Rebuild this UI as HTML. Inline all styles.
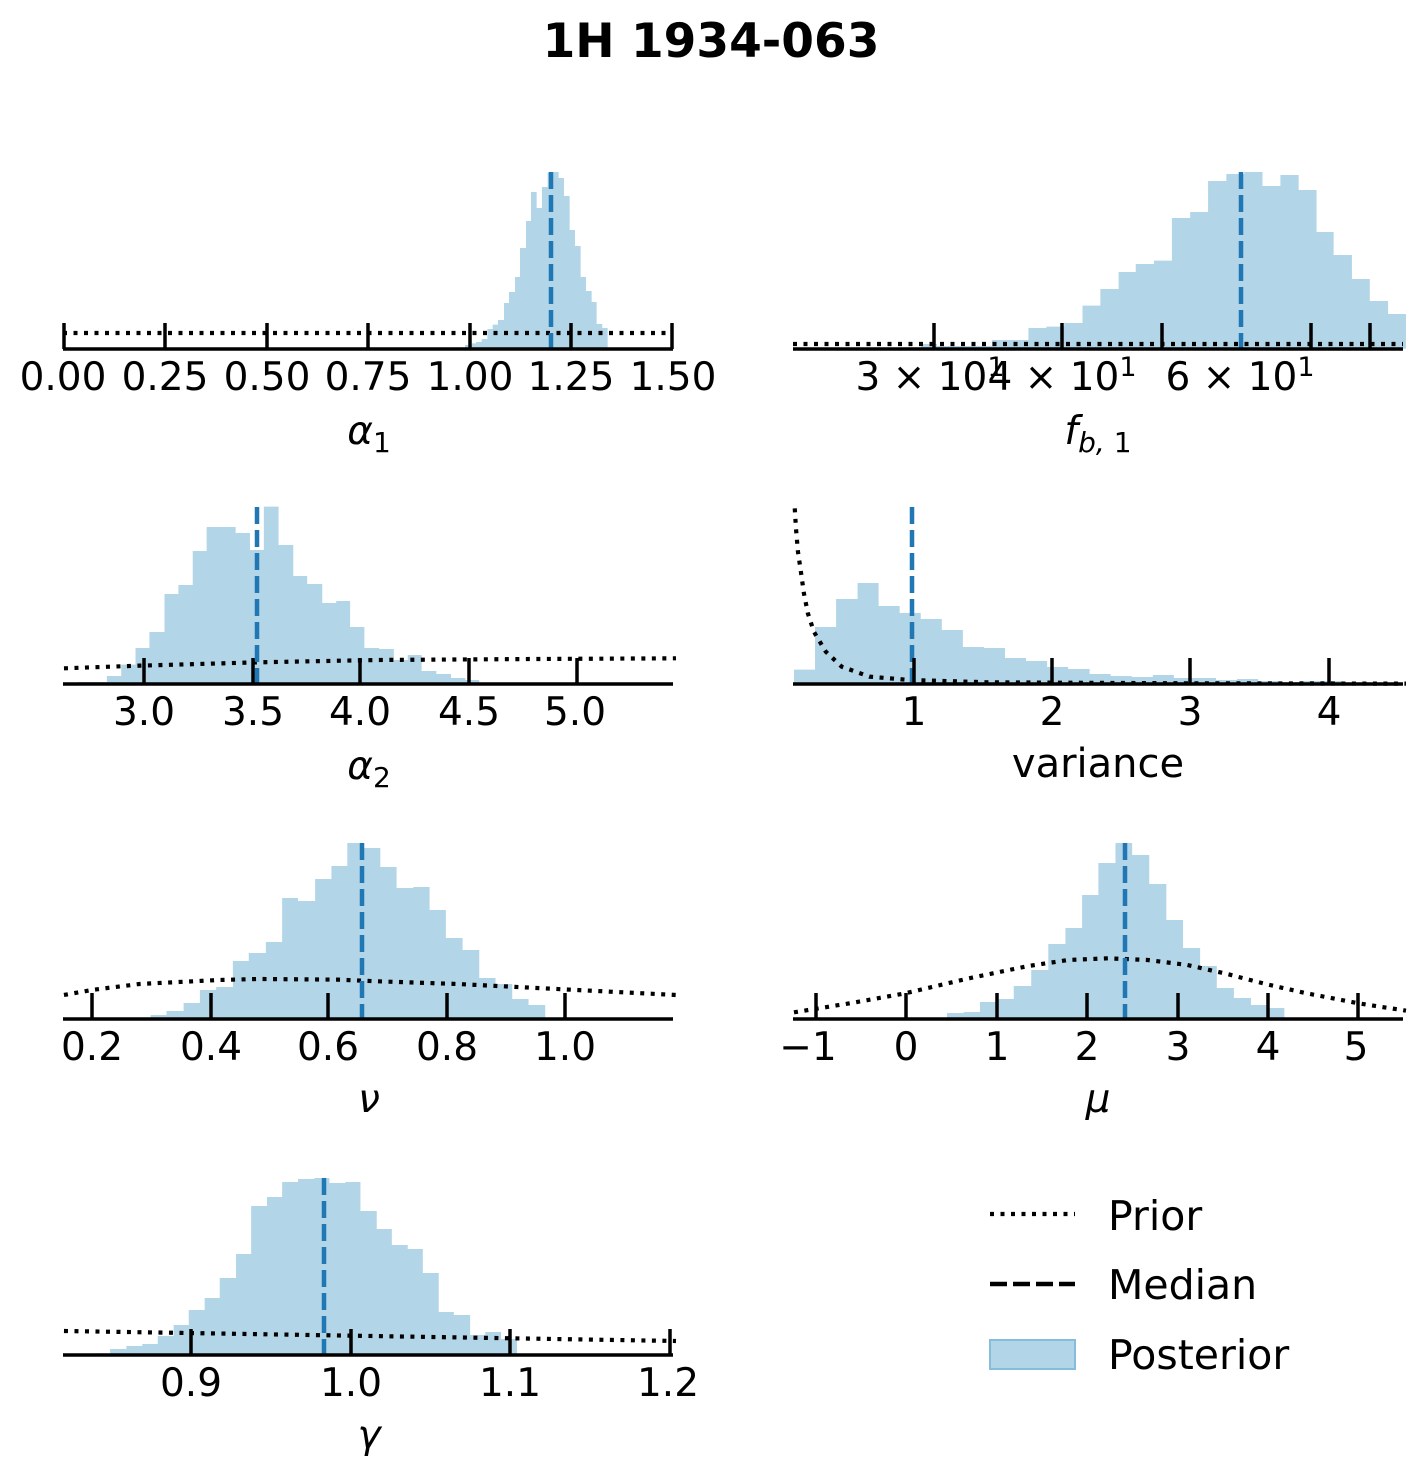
<!DOCTYPE html>
<html><head><meta charset="utf-8"><style>
body{margin:0;background:#fff;}
svg{display:block;font-family:"DejaVu Sans","Liberation Sans",sans-serif;}
.t{font-size:39px;text-anchor:middle;fill:#000;}
.m{font-size:39px;text-anchor:middle;font-style:italic;fill:#000;}
.h{fill:#b3d5e8;stroke:none;}
.p{fill:none;stroke:#000;stroke-width:4.2;stroke-dasharray:4 6.5;}
.md{stroke:#1f77b4;stroke-width:4.5;stroke-dasharray:17 6;}
.ax{stroke:#000;stroke-width:3.5;}
</style></head><body>
<svg width="1422" height="1476" viewBox="0 0 1422 1476" xmlns="http://www.w3.org/2000/svg">
<text x="711" y="57" style="font-size:47px;font-weight:bold;text-anchor:middle">1H 1934-063</text>

<!-- Panel 1: alpha1 -->
<g transform="translate(440,160) scale(0.3333,0.3333)">
<path class="h" d="M40 566V562H75V555H95V550H108V546H125V537H142V507H158V494H174V480H192V429H207V396H225V351H240V264H258V183H273V96H290V144H306V81H323V38H340V36H356V54H372V108H389V210H405V258H422V351H438V393H455V426H470V492H487V504H503V566Z"/>
</g>
<line class="p" x1="63" y1="333" x2="673" y2="333"/>
<line class="md" x1="551" y1="172" x2="551" y2="349"/>
<line class="ax" x1="63" y1="349" x2="673" y2="349"/>
<g class="ax"><line x1="64" y1="323" x2="64" y2="349"/><line x1="165" y1="323" x2="165" y2="349"/><line x1="267" y1="323" x2="267" y2="349"/><line x1="368" y1="323" x2="368" y2="349"/><line x1="470" y1="323" x2="470" y2="349"/><line x1="571" y1="323" x2="571" y2="349"/><line x1="672" y1="323" x2="672" y2="349"/></g>
<g class="t"><text x="63" y="390">0.00</text><text x="165" y="390">0.25</text><text x="267" y="390">0.50</text><text x="368" y="390">0.75</text><text x="470" y="390">1.00</text><text x="571" y="390">1.25</text><text x="673" y="390">1.50</text></g>
<text class="m" x="369" y="444">α<tspan style="font-style:normal;font-size:28px" dy="8">1</tspan></text>

<!-- Panel 2: f_b1 -->
<g transform="translate(790,160) scale(0.3974,0.3333)">
<path class="h" d="M285 566V562H330V552H370V558H508V540H600V504H645V500H690V489H736V437H781V387H827V336H870V312H916V302H961V174H1007V156H1052V63H1098V42H1143V36H1189V78H1234V45H1280V90H1325V216H1368V285H1414V357H1459V423H1505V462H1550V566Z"/>
</g>
<line class="p" x1="793" y1="344" x2="1403" y2="344"/>
<line class="md" x1="1241" y1="172" x2="1241" y2="349"/>
<line class="ax" x1="793" y1="349" x2="1403" y2="349"/>
<g class="ax"><line x1="934" y1="323" x2="934" y2="349"/><line x1="1062" y1="323" x2="1062" y2="349"/><line x1="1162" y1="323" x2="1162" y2="349"/><line x1="1311" y1="323" x2="1311" y2="349"/><line x1="1370" y1="323" x2="1370" y2="349"/></g>
<g class="t"><text x="930" y="390">3 × 10<tspan font-size="27" dy="-14">1</tspan></text><text x="1062" y="390">4 × 10<tspan font-size="27" dy="-14">1</tspan></text><text x="1240" y="390">6 × 10<tspan font-size="27" dy="-14">1</tspan></text></g>
<text class="m" x="1098" y="444">f<tspan font-size="28" dy="8">b, </tspan><tspan font-size="28" style="font-style:normal">1</tspan></text>

<!-- Panel 3: alpha2 -->
<g transform="translate(60,490) scale(0.3974,0.3333)">
<path class="h" d="M45 580V576H118V558H154V524H190V474H225V426H263V312H298V285H334V183H369V111H442V129H478V180H513V50H550V165H587V258H622V282H660V339H695V333H730V411H766V474H803V477H840V510H875V495H910V543H947V552H984V564H1020V570H1055V580Z"/>
<path class="p" vector-effect="non-scaling-stroke" d="M10 535L200 527L500 517L800 510L1200 507L1550 505"/>
</g>
<line class="md" x1="257" y1="507" x2="257" y2="684"/>
<line class="ax" x1="63" y1="684" x2="673" y2="684"/>
<g class="ax"><line x1="144" y1="658" x2="144" y2="684"/><line x1="253" y1="658" x2="253" y2="684"/><line x1="360" y1="658" x2="360" y2="684"/><line x1="469" y1="658" x2="469" y2="684"/><line x1="577" y1="658" x2="577" y2="684"/></g>
<g class="t"><text x="144" y="725">3.0</text><text x="253" y="725">3.5</text><text x="360" y="725">4.0</text><text x="469" y="725">4.5</text><text x="575" y="725">5.0</text></g>
<text class="m" x="369" y="779">α<tspan style="font-style:normal;font-size:28px" dy="8">2</tspan></text>

<!-- Panel 4: variance -->
<g transform="translate(790,495) scale(0.3974,0.3333)">
<path class="h" d="M10 566V524H63V396H116V312H170V264H223V333H276V354H329V372H382V405H435V456H488V459H541V489H594V498H647V516H700V522H754V537H807V543H860V546H913V540H966V549H1072V555H1125V552H1178V558H1231V561H1284V558H1390V563H1443V566Z"/>
<path class="p" vector-effect="non-scaling-stroke" d="M12 40L15 100L20 170L28 235L35 295L45 355L60 410L90 470L130 515L200 545L300 555L500 562L1000 565L1550 566"/>
</g>
<line class="md" x1="912" y1="507" x2="912" y2="684"/>
<line class="ax" x1="793" y1="684" x2="1403" y2="684"/>
<g class="ax"><line x1="914" y1="658" x2="914" y2="684"/><line x1="1052" y1="658" x2="1052" y2="684"/><line x1="1190" y1="658" x2="1190" y2="684"/><line x1="1329" y1="658" x2="1329" y2="684"/></g>
<g class="t"><text x="914" y="725">1</text><text x="1052" y="725">2</text><text x="1190" y="725">3</text><text x="1329" y="725">4</text></g>
<text class="t" x="1098" y="777" style="font-size:40px">variance</text>

<!-- Panel 5: nu -->
<g transform="translate(60,830) scale(0.3974,0.3333)">
<path class="h" d="M228 566V555H268V543H311V519H352V480H393V471H435V393H475V369H518V336H559V204H599V213H642V147H683V108H723V39H765V54H806V111H847V174H889V171H930V240H971V324H1013V360H1055V444H1096V462H1138V507H1179V525H1221V566Z"/>
<path class="p" vector-effect="non-scaling-stroke" d="M10 495L80 480L200 462L400 450L500 447L700 449L800 454L1000 462L1200 474L1400 486L1550 495"/>
</g>
<line class="md" x1="362" y1="843" x2="362" y2="1019"/>
<line class="ax" x1="63" y1="1019" x2="673" y2="1019"/>
<g class="ax"><line x1="92" y1="993" x2="92" y2="1019"/><line x1="211" y1="993" x2="211" y2="1019"/><line x1="328" y1="993" x2="328" y2="1019"/><line x1="447" y1="993" x2="447" y2="1019"/><line x1="565" y1="993" x2="565" y2="1019"/></g>
<g class="t"><text x="92" y="1060">0.2</text><text x="211" y="1060">0.4</text><text x="328" y="1060">0.6</text><text x="447" y="1060">0.8</text><text x="565" y="1060">1.0</text></g>
<text class="m" x="369" y="1112">ν</text>

<!-- Panel 6: mu -->
<g transform="translate(790,830) scale(0.3974,0.3333)">
<path class="h" d="M395 566V549H437V546H478V516H520V507H563V468H607V420H650V342H693V294H735V195H776V99H819V39H861V75H904V162H947V270H989V354H1032V408H1074V474H1117V504H1160V525H1202V534H1244V566Z"/>
<path class="p" vector-effect="non-scaling-stroke" d="M10 547L150 520L290 490L450 445L600 408L700 390L800 385L900 390L1000 405L1100 432L1200 463L1300 490L1430 520L1550 542"/>
</g>
<line class="md" x1="1125" y1="843" x2="1125" y2="1019"/>
<line class="ax" x1="793" y1="1019" x2="1403" y2="1019"/>
<g class="ax"><line x1="816" y1="993" x2="816" y2="1019"/><line x1="906" y1="993" x2="906" y2="1019"/><line x1="997" y1="993" x2="997" y2="1019"/><line x1="1087" y1="993" x2="1087" y2="1019"/><line x1="1178" y1="993" x2="1178" y2="1019"/><line x1="1268" y1="993" x2="1268" y2="1019"/><line x1="1358" y1="993" x2="1358" y2="1019"/></g>
<g class="t"><text x="808" y="1060">−1</text><text x="906" y="1060">0</text><text x="997" y="1060">1</text><text x="1087" y="1060">2</text><text x="1178" y="1060">3</text><text x="1268" y="1060">4</text><text x="1356" y="1060">5</text></g>
<text class="m" x="1098" y="1112">μ</text>

<!-- Panel 7: gamma -->
<g transform="translate(60,1165) scale(0.3974,0.3333)">
<path class="h" d="M90 570V565H126V552H167V543H207V537H246V513H286V480H324V435H364V399H402V339H443V267H481V123H521V96H559V51H599V42H640V39H678V54H718V51H756V138H797V192H835V240H875V252H913V324H953V441H991V450H1032V510H1070V501H1110V522H1150V570Z"/>
<path class="p" vector-effect="non-scaling-stroke" d="M10 498L1550 528"/>
</g>
<line class="md" x1="324" y1="1178" x2="324" y2="1355"/>
<line class="ax" x1="63" y1="1355" x2="673" y2="1355"/>
<g class="ax"><line x1="191" y1="1329" x2="191" y2="1355"/><line x1="351" y1="1329" x2="351" y2="1355"/><line x1="510" y1="1329" x2="510" y2="1355"/><line x1="670" y1="1329" x2="670" y2="1355"/></g>
<g class="t"><text x="191" y="1396">0.9</text><text x="351" y="1396">1.0</text><text x="510" y="1396">1.1</text><text x="668" y="1396">1.2</text></g>
<text class="m" x="369" y="1448">γ</text>

<!-- Legend -->
<line class="p" x1="990" y1="1214" x2="1075" y2="1214"/>
<line x1="990" y1="1284" x2="1075" y2="1284" stroke="#000" stroke-width="4.5" stroke-dasharray="17 6"/>
<rect x="990" y="1340" width="85" height="29" fill="#b3d5e8" stroke="#86bcdc" stroke-width="2"/>
<g style="font-size:41px;fill:#000"><text x="1108" y="1230">Prior</text><text x="1108" y="1299">Median</text><text x="1108" y="1369">Posterior</text></g>
</svg>
</body></html>
